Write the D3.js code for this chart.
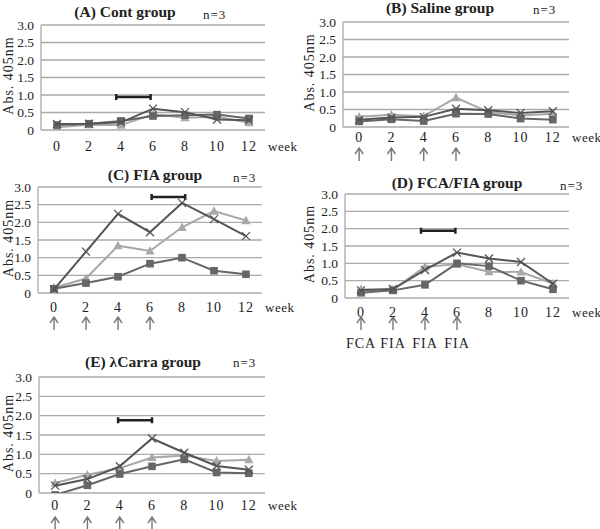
<!DOCTYPE html>
<html lang="en">
<head>
    <meta charset="UTF-8">
    <title>Abs. 405nm by group</title>
    <script src="https://d3js.org/d3.v7.min.js"></script>
    <style>
        body {
            margin: 0;
            background: #fff;
        }
        #chart, #chart text {
            font-family: 'Liberation Serif', 'Times New Roman', Times, serif;
        }
        #chart text {
            fill: #222;
        }
        .grid {
            stroke: #aaa;
            stroke-width: 1.3px;
        }
        .title {
            font-weight: bold;
            font-size: 15.5px;
            text-anchor: middle;
        }
        .nlabel {
            font-size: 13px;
            letter-spacing: 1px;
        }
        .tick-y {
            font-size: 13.5px;
            text-anchor: end;
        }
        .tick-x {
            font-size: 14px;
            text-anchor: middle;
            letter-spacing: 1px;
        }
        .ylab {
            font-size: 14px;
            text-anchor: middle;
            letter-spacing: 1px;
        }
    </style>
</head>
<body>
    <svg id="chart" width="600" height="529" font-family="'Liberation Serif', 'Times New Roman', serif"></svg>

    <script>
        // weeks on the x axis
        const weeks = [0, 2, 4, 6, 8, 10, 12];
        const yTicks = [0, 0.5, 1.0, 1.5, 2.0, 2.5, 3.0];
        const yTickLabels = ["0", "0.5", "1.0", "1.5", "2.0", "2.5", "3.0"];
        const arrowWeeks = [0, 2, 4, 6];
        const fcaLabels = ["FCA", "FIA", "FIA", "FIA"];

        // (A) Cont group
        const contSquares   = [0.14, 0.18, 0.26, 0.40, 0.42, 0.44, 0.33];
        const contTriangles = [0.08, 0.15, 0.14, 0.45, 0.35, 0.38, 0.21];
        const contCrosses   = [0.17, 0.18, 0.22, 0.61, 0.51, 0.30, 0.28];
        const contBar = [3.7, 5.85, 0.94];

        // (B) Saline group
        const salineSquares   = [0.16, 0.22, 0.17, 0.38, 0.37, 0.24, 0.21];
        const salineTriangles = [0.29, 0.35, 0.31, 0.84, 0.43, 0.33, 0.38];
        const salineCrosses   = [0.21, 0.27, 0.29, 0.52, 0.48, 0.40, 0.45];

        // (C) FIA group
        const fiaSquares   = [0.12, 0.28, 0.46, 0.83, 1.00, 0.63, 0.53];
        const fiaTriangles = [0.15, 0.41, 1.34, 1.19, 1.86, 2.32, 2.05];
        const fiaCrosses   = [0.10, 1.17, 2.24, 1.72, 2.55, 2.09, 1.61];
        const fiaBar = [6.1, 8.2, 2.72];

        // (D) FCA/FIA group
        const fcaSquares   = [0.15, 0.22, 0.38, 1.00, 0.92, 0.50, 0.25];
        const fcaTriangles = [0.25, 0.24, 0.90, 0.97, 0.76, 0.75, 0.42];
        const fcaCrosses   = [0.22, 0.26, 0.81, 1.31, 1.14, 1.04, 0.41];
        const fcaBar = [3.75, 5.9, 1.94];

        // (E) lambda Carra group
        const carraSquares   = [-0.05, 0.20, 0.49, 0.69, 0.87, 0.53, 0.51];
        const carraTriangles = [0.26, 0.47, 0.64, 0.92, 0.97, 0.83, 0.86];
        const carraCrosses   = [0.19, 0.36, 0.69, 1.41, 1.04, 0.70, 0.60];
        const carraBar = [3.9, 6.0, 1.88];

        const panels = [
            {id: "A", title: "(A) Cont group", left: 41, right: 265, top: 25, bottom: 130, ylabX: 8,
             titleX: 125, titleY: 17, nX: 203, nY: 19, labelDy: 21, arrowTop: null,
             squares: contSquares, triangles: contTriangles, crosses: contCrosses, bar: contBar},
            {id: "B", title: "(B) Saline group", left: 343, right: 569, top: 22, bottom: 127, ylabX: 309,
             titleX: 440, titleY: 13, nX: 533, nY: 14, labelDy: 15, arrowTop: 148,
             squares: salineSquares, triangles: salineTriangles, crosses: salineCrosses, bar: null},
            {id: "C", title: "(C) FIA group", left: 38, right: 262, top: 187, bottom: 293, ylabX: 8,
             titleX: 155, titleY: 180, nX: 233, nY: 182, labelDy: 19, arrowTop: 317,
             squares: fiaSquares, triangles: fiaTriangles, crosses: fiaCrosses, bar: fiaBar},
            {id: "D", title: "(D) FCA/FIA group", left: 345, right: 569, top: 194, bottom: 298, ylabX: 309,
             titleX: 457, titleY: 188, nX: 560, nY: 190, labelDy: 19, arrowTop: 317,
             squares: fcaSquares, triangles: fcaTriangles, crosses: fcaCrosses, bar: fcaBar,
             arrowLabels: fcaLabels},
            {id: "E", title: "(E) \u03bbCarra group", left: 39, right: 265, top: 377, bottom: 493, ylabX: 8,
             titleX: 143, titleY: 367, nX: 233, nY: 367, labelDy: 17, arrowTop: 517,
             squares: carraSquares, triangles: carraTriangles, crosses: carraCrosses, bar: carraBar}
        ];

        const svg = d3.select("#chart");

        panels.forEach(p => {
            const g = svg.append("g");

            const x = d3.scaleLinear().domain([-1, 13]).range([p.left, p.right]);
            const y = d3.scaleLinear().domain([0, 3]).range([p.bottom, p.top]);

            g.append("clipPath").attr("id", "clip" + p.id)
                .append("rect")
                .attr("x", p.left - 10).attr("y", p.top - 10)
                .attr("width", p.right - p.left + 20).attr("height", p.bottom - p.top + 10);

            // gridlines
            g.selectAll(".grid")
                .data(yTicks)
                .enter()
                .append("line")
                .attr("class", "grid")
                .attr("x1", p.left)
                .attr("x2", p.right)
                .attr("y1", d => y(d))
                .attr("y2", d => y(d));

            g.append("line")
                .attr("class", "grid")
                .attr("x1", p.left).attr("x2", p.left)
                .attr("y1", y(0)).attr("y2", y(3));

            // y tick labels
            g.selectAll(".tick-y")
                .data(yTicks)
                .enter()
                .append("text")
                .attr("class", "tick-y")
                .attr("x", p.left - 7)
                .attr("y", d => y(d))
                .attr("dy", "0.35em")
                .text((d, i) => yTickLabels[i]);

            g.append("text")
                .attr("class", "ylab")
                .attr("transform", `translate(${p.ylabX},${(p.top + p.bottom) / 2 - 2}) rotate(-90)`)
                .attr("dy", "0.35em")
                .text("Abs. 405nm");

            // x tick labels
            g.selectAll(".tick-x")
                .data(weeks)
                .enter()
                .append("text")
                .attr("class", "tick-x")
                .attr("x", d => x(d))
                .attr("y", p.bottom + p.labelDy)
                .text(d => d);

            g.append("text")
                .attr("class", "tick-x")
                .style("text-anchor", "start")
                .style("font-size", "13px")
                .style("letter-spacing", "0.5px")
                .attr("x", p.right + 3)
                .attr("y", p.bottom + p.labelDy)
                .text("week");

            // title and n
            g.append("text").attr("class", "title")
                .attr("x", p.titleX).attr("y", p.titleY).text(p.title);
            g.append("text").attr("class", "nlabel")
                .attr("x", p.nX).attr("y", p.nY).text("n=3");

            // significance bar
            if (p.bar) {
                const [b0, b1, bv] = p.bar;
                g.append("path")
                    .attr("d", `M${x(b0)},${y(bv)}H${x(b1)}M${x(b0)},${y(bv) - 3}V${y(bv) + 3}M${x(b1)},${y(bv) - 3}V${y(bv) + 3}`)
                    .attr("stroke", "#222")
                    .attr("stroke-width", 2.5)
                    .attr("fill", "none");
            }

            // injection arrows
            if (p.arrowTop) {
                g.selectAll(".arrow")
                    .data(arrowWeeks)
                    .enter()
                    .append("path")
                    .attr("class", "arrow")
                    .attr("d", d => `M${x(d)},${p.arrowTop + 13}V${p.arrowTop}M${x(d) - 4},${p.arrowTop + 6}L${x(d)},${p.arrowTop}L${x(d) + 4},${p.arrowTop + 6}`)
                    .attr("stroke", "#777")
                    .attr("stroke-width", 1.4)
                    .attr("fill", "none");
            }
            if (p.arrowLabels) {
                g.selectAll(".alab")
                    .data(arrowWeeks)
                    .enter()
                    .append("text")
                    .attr("class", "tick-x")
                    .attr("x", d => x(d))
                    .attr("y", p.arrowTop + 31)
                    .text((d, i) => p.arrowLabels[i]);
            }

            // series
            const plot = g.append("g").attr("clip-path", `url(#clip${p.id})`);
            const line = d3.line().x((d, i) => x(weeks[i])).y(d => y(d));

            const series = [
                {values: p.triangles, color: "#a8a8a8", marker: "triangle"},
                {values: p.squares, color: "#666", marker: "square"},
                {values: p.crosses, color: "#555", marker: "cross"}
            ];

            series.forEach(s => {
                plot.append("path")
                    .datum(s.values)
                    .attr("d", line)
                    .attr("fill", "none")
                    .attr("stroke", s.color)
                    .attr("stroke-width", 2);

                const pts = plot.selectAll(".m-" + s.marker)
                    .data(s.values)
                    .enter();

                if (s.marker === "square") {
                    pts.append("rect")
                        .attr("x", (d, i) => x(weeks[i]) - 3.8)
                        .attr("y", d => y(d) - 3.8)
                        .attr("width", 7.6).attr("height", 7.6)
                        .attr("fill", s.color);
                } else if (s.marker === "triangle") {
                    pts.append("path")
                        .attr("transform", (d, i) => `translate(${x(weeks[i])},${y(d)})`)
                        .attr("d", "M0,-4.8L4.6,3.6L-4.6,3.6Z")
                        .attr("fill", s.color);
                } else {
                    pts.append("path")
                        .attr("transform", (d, i) => `translate(${x(weeks[i])},${y(d)})`)
                        .attr("d", "M-4,-4L4,4M-4,4L4,-4")
                        .attr("stroke", s.color)
                        .attr("stroke-width", 1.3)
                        .attr("fill", "none");
                }
            });
        });
    </script>
</body>
</html>
